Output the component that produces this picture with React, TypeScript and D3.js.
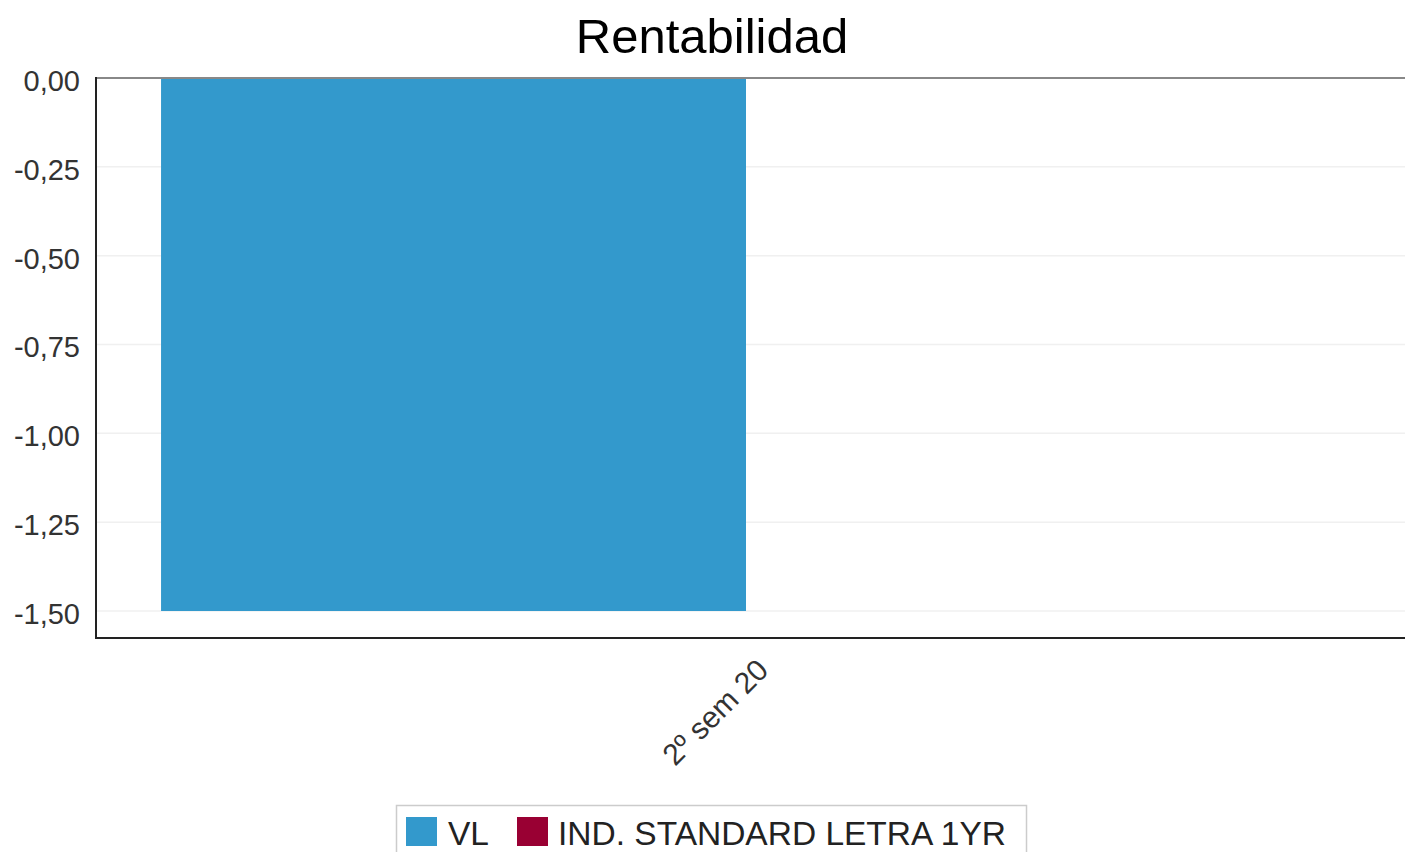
import React from "react";
import * as d3 from "d3";

const categories = ["2º sem 20"];
const seriesNames = ["VL", "IND. STANDARD LETRA 1YR"];
const seriesColors = ["#3399cc", "#990033"];
const vlValues = [-1.5];
const indValues = [0];
const yTicks = [0, -0.25, -0.5, -0.75, -1.0, -1.25, -1.5];
const title = "Rentabilidad";

const W = 1405;
const H = 852;
const M = { left: 96, top: 78, right: 1396, bottom: 638 };
const FONT = "'Liberation Sans', Arial, sans-serif";

export default function App() {
  const y = d3.scaleLinear().domain([-1.576, 0]).range([M.bottom, M.top]);
  const x0 = d3
    .scaleBand<string>()
    .domain(categories)
    .range([M.left, M.right])
    .paddingInner(0)
    .paddingOuter(0.0556);
  const x1 = d3
    .scaleBand<string>()
    .domain(seriesNames)
    .range([0, x0.bandwidth()])
    .padding(0);
  const fmt = (v: number) => d3.format(".2f")(v).replace(".", ",").replace("−", "-");
  const series = [vlValues, indValues];

  return (
    <svg
      width={W}
      height={H}
      style={{ position: "absolute", left: 0, top: 0, background: "#fff" }}
      fontFamily={FONT}
    >
      <rect x={0} y={0} width={W} height={H} fill="#fff" />
      <text x={712} y={53} textAnchor="middle" fontSize={49} fill="#000">
        {title}
      </text>
      {yTicks.map((t) => (
        <g key={t}>
          <line x1={M.left} x2={W} y1={y(t)} y2={y(t)} stroke="#f0f0f0" strokeWidth={1.5} />
          <text x={80} y={y(t) + 13} textAnchor="end" fontSize={29} fill="#333">
            {fmt(t)}
          </text>
        </g>
      ))}
      {categories.map((c, ci) => (
        <g key={c}>
          {seriesNames.map((s, si) => {
            const v = series[si][ci];
            const bx = (x0(c) ?? 0) + (x1(s) ?? 0);
            const y0 = y(0);
            const yv = y(v);
            return (
              <rect
                key={s}
                x={bx}
                width={x1.bandwidth()}
                y={Math.min(y0, yv)}
                height={Math.abs(yv - y0)}
                fill={seriesColors[si]}
              />
            );
          })}
          <text
            transform={`translate(${(x0(c) ?? 0) + x0.bandwidth() / 2 + 24},${672}) rotate(-45)`}
            textAnchor="end"
            fontSize={30}
            fill="#333"
          >
            {c}
          </text>
        </g>
      ))}
      <line x1={M.left} x2={W} y1={M.top} y2={M.top} stroke="#888" strokeWidth={2} />
      <line x1={M.left} x2={W} y1={M.bottom} y2={M.bottom} stroke="#222" strokeWidth={2} />
      <line x1={M.left} x2={M.left} y1={M.top - 1} y2={M.bottom + 1} stroke="#222" strokeWidth={2} />
      <g>
        <rect x={396.5} y={805.5} width={630} height={60} fill="#fff" stroke="#ccc" strokeWidth={1.5} />
        <rect x={406} y={817} width={31} height={29} fill={seriesColors[0]} />
        <text x={448} y={845} fontSize={33.5} fill="#222">
          {seriesNames[0]}
        </text>
        <rect x={517} y={817} width={31} height={29} fill={seriesColors[1]} />
        <text x={558} y={845} fontSize={33.5} fill="#222">
          {seriesNames[1]}
        </text>
      </g>
    </svg>
  );
}
